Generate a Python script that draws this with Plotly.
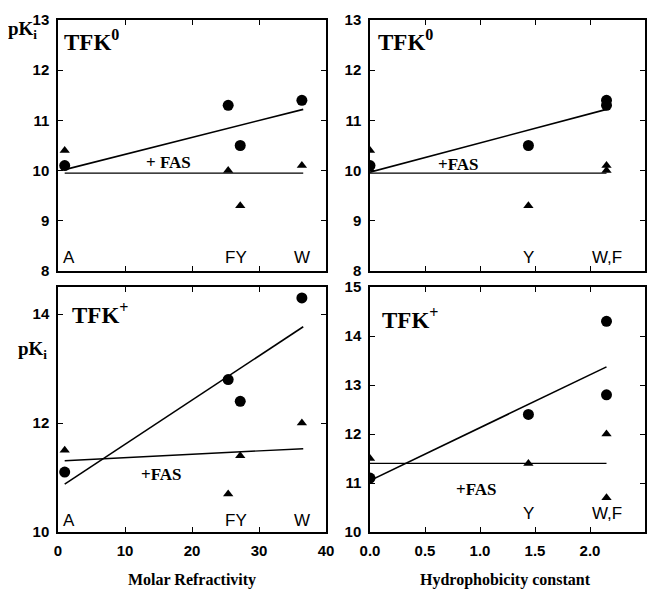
import plotly.graph_objects as go

# ---- data ----
residues = ["A", "F", "Y", "W"]
molar_refractivity = [1.0, 25.4, 27.2, 36.4]
hydrophobicity = [0.0, 2.15, 1.44, 2.15]

tfk0_pki = [10.1, 11.3, 10.5, 11.4]
tfk0_fas_pki = [10.4, 10.0, 9.3, 10.1]
tfkp_pki = [11.1, 12.8, 12.4, 14.3]
tfkp_fas_pki = [11.5, 10.7, 11.4, 12.0]

# regression lines (endpoints)
mr_fit_x = [1.0, 36.6]
hc_fit_x = [0.0, 2.15]
tfk0_mr_fit = [10.02, 11.22]
tfk0_mr_fas_fit = [9.95, 9.95]
tfk0_hc_fit = [9.97, 11.22]
tfk0_hc_fas_fit = [9.95, 9.95]
tfkp_mr_fit = [10.88, 13.77]
tfkp_mr_fas_fit = [11.31, 11.53]
tfkp_hc_fit = [11.05, 13.37]
tfkp_hc_fas_fit = [11.4, 11.4]

mr_ticks = [0, 10, 20, 30, 40]
hc_ticks = [0.0, 0.5, 1.0, 1.5, 2.0, 2.5]

fig = go.Figure()

panels = [
    ("x", "y", molar_refractivity, tfk0_pki, tfk0_fas_pki, mr_fit_x, tfk0_mr_fit, tfk0_mr_fas_fit),
    ("x2", "y2", hydrophobicity, tfk0_pki, tfk0_fas_pki, hc_fit_x, tfk0_hc_fit, tfk0_hc_fas_fit),
    ("x3", "y3", molar_refractivity, tfkp_pki, tfkp_fas_pki, mr_fit_x, tfkp_mr_fit, tfkp_mr_fas_fit),
    ("x4", "y4", hydrophobicity, tfkp_pki, tfkp_fas_pki, hc_fit_x, tfkp_hc_fit, tfkp_hc_fas_fit),
]
for xa, ya, xv, circ, tri, fx, fit, fas in panels:
    fig.add_trace(go.Scatter(x=fx, y=fit, mode="lines", xaxis=xa, yaxis=ya,
                             line=dict(color="black", width=1.6), showlegend=False))
    fig.add_trace(go.Scatter(x=fx, y=fas, mode="lines", xaxis=xa, yaxis=ya,
                             line=dict(color="black", width=1.4), showlegend=False))
    fig.add_trace(go.Scatter(x=xv, y=circ, mode="markers", xaxis=xa, yaxis=ya,
                             marker=dict(symbol="circle", size=11, color="black"), showlegend=False))
    fig.add_trace(go.Scatter(x=xv, y=tri, mode="markers", xaxis=xa, yaxis=ya,
                             marker=dict(symbol="triangle-up", size=9, color="black"), showlegend=False))

# page body has an 8px margin: figure is drawn offset by 8px
OFF = 8
W, H = 647, 583
def xd(a, b):
    return [(a - OFF) / W, (b - OFF) / W]
def yd(top, bot):
    return [(H - (bot - OFF)) / H, (H - (top - OFF)) / H]
def px(x):
    return (x - OFF) / W
def py(y):
    return (H - (y - OFF)) / H

tickfont = dict(family="Liberation Sans", size=15, color="black", weight="bold")
common = dict(showgrid=False, zeroline=False, showline=True, linecolor="black", linewidth=1.5,
              mirror="ticks", ticks="inside", ticklen=5, tickwidth=1.2, tickcolor="black",
              tickfont=tickfont, automargin=False, ticklabelstandoff=4)

fig.update_layout(
    template="none",
    width=W, height=H, margin=dict(l=0, r=0, t=0, b=0, pad=0),
    paper_bgcolor="white", plot_bgcolor="white",
    xaxis=dict(domain=xd(58, 326), range=[0, 40], anchor="y", tickvals=mr_ticks,
               showticklabels=False, **common),
    yaxis=dict(domain=yd(20, 271), range=[8, 13], anchor="x", dtick=1, **common),
    xaxis2=dict(domain=xd(370, 645), range=[0, 2.5], anchor="y2", tickvals=hc_ticks,
                showticklabels=False, **common),
    yaxis2=dict(domain=yd(20, 271), range=[8, 13], anchor="x2", dtick=1, **common),
    xaxis3=dict(domain=xd(58, 326), range=[0, 40], anchor="y3", tickvals=mr_ticks, **common),
    yaxis3=dict(domain=yd(287, 532), range=[10, 14.5], anchor="x3", tickvals=[10, 12, 14], **common),
    xaxis4=dict(domain=xd(370, 645), range=[0, 2.5], anchor="y4", tickvals=hc_ticks,
                tickformat=".1f", **common),
    yaxis4=dict(domain=yd(287, 532), range=[10, 15], anchor="x4", dtick=1, **common),
)

serif = "Liberation Serif"
sans = "Liberation Sans"
ann = []
def add(x, y, text, xref, yref, size, family, xanchor="center", yanchor="middle"):
    ann.append(dict(x=x, y=y, xref=xref, yref=yref, text=text, showarrow=False,
                    font=dict(family=family, size=size, color="black"),
                    xanchor=xanchor, yanchor=yanchor, borderpad=0))

# residue labels
lab = 17
add(0.6, 8.27, "A", "x", "y", lab, sans, xanchor="left")
add(26.6, 8.27, "FY", "x", "y", lab, sans)
add(36.4, 8.27, "W", "x", "y", lab, sans)
add(-0.02, 8.27, "A", "x2", "y2", lab, sans, xanchor="left")
add(1.44, 8.27, "Y", "x2", "y2", lab, sans)
add(2.15, 8.27, "W,F", "x2", "y2", lab, sans)
add(0.6, 10.22, "A", "x3", "y3", lab, sans, xanchor="left")
add(26.6, 10.22, "FY", "x3", "y3", lab, sans)
add(36.4, 10.22, "W", "x3", "y3", lab, sans)
add(-0.02, 10.38, "A", "x4", "y4", lab, sans, xanchor="left")
add(1.44, 10.38, "Y", "x4", "y4", lab, sans)
add(2.15, 10.38, "W,F", "x4", "y4", lab, sans)

# FAS labels
add(16.5, 10.17, "<b>+ FAS</b>", "x", "y", 17, serif)
add(0.8, 10.13, "<b>+FAS</b>", "x2", "y2", 17, serif)
add(15.5, 11.05, "<b>+FAS</b>", "x3", "y3", 17, serif)
add(0.97, 10.87, "<b>+FAS</b>", "x4", "y4", 17, serif)

# panel titles
add(0.7, 12.6, "<b>TFK<sup>0</sup></b>", "x", "y", 23, serif, xanchor="left")
add(0.06, 12.6, "<b>TFK<sup>0</sup></b>", "x2", "y2", 23, serif, xanchor="left")
add(2.0, 14.02, "<b>TFK<sup>+</sup></b>", "x3", "y3", 23, serif, xanchor="left")
add(0.1, 14.35, "<b>TFK<sup>+</sup></b>", "x4", "y4", 23, serif, xanchor="left")

# y titles
add(px(22), py(30), "<b>pK<sub>i</sub></b>", "paper", "paper", 19, serif)
add(px(32), py(350), "<b>pK<sub>i</sub></b>", "paper", "paper", 19, serif)

# x titles
add(px(192), py(580), "<b>Molar Refractivity</b>", "paper", "paper", 16, serif)
add(px(505), py(580), "<b>Hydrophobicity constant</b>", "paper", "paper", 16, serif)

fig.update_layout(annotations=ann)
fig.write_html("out.html")
